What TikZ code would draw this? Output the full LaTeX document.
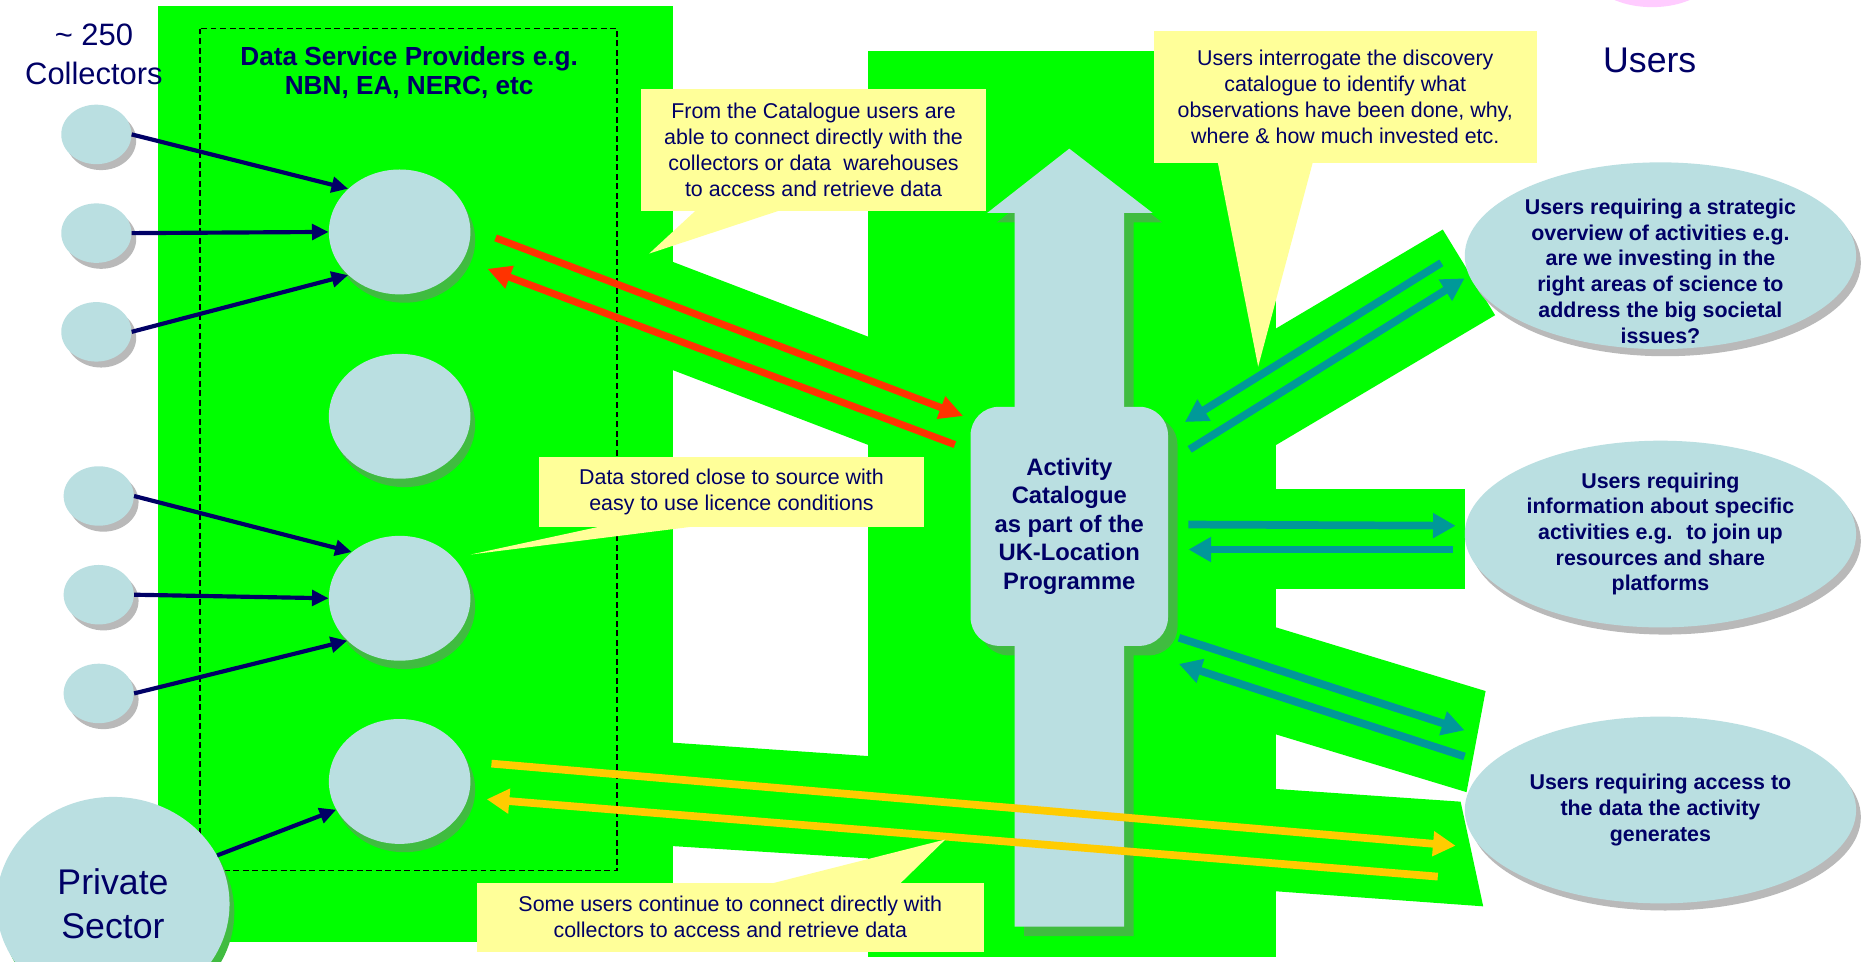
\documentclass[tikz,border=0pt]{standalone}
\usepackage{fontspec}
\setmainfont{Liberation Sans}
\usetikzlibrary{arrows.meta,shapes.geometric,shadows,calc}
\definecolor{vgreen}{RGB}{0,255,0}
\definecolor{shgreen}{RGB}{64,188,64}
\definecolor{lblue}{RGB}{186,223,225}
\definecolor{navy}{RGB}{0,0,102}
\definecolor{redarr}{RGB}{255,51,0}
\definecolor{tealarr}{RGB}{0,153,153}
\definecolor{yelarr}{RGB}{255,204,0}
\definecolor{callyel}{RGB}{255,255,153}
\definecolor{pinkish}{RGB}{255,204,255}

\begin{document}
\begin{tikzpicture}[x=1pt, y=-1pt,
   coll/.style={ellipse, fill=lblue, minimum width=59pt, minimum height=50pt, inner sep=0pt,
      drop shadow={shadow xshift=4pt, shadow yshift=-5pt, fill=gray!55, opacity=1}},
   prov/.style={ellipse, fill=lblue, minimum width=119pt, minimum height=105pt, inner sep=0pt,
      drop shadow={shadow xshift=4pt, shadow yshift=-7pt, fill=shgreen, opacity=1}},
   user/.style={ellipse, fill=lblue, minimum width=329pt, minimum height=157pt, inner sep=0pt,
      drop shadow={shadow xshift=4pt, shadow yshift=-6pt, fill=gray!55, opacity=1},
      text=navy, align=center, font=\bfseries\fontsize{18}{21.6}\selectfont},
   catbox/.style={rectangle, rounded corners=24pt, fill=lblue, minimum width=166pt, minimum height=201pt,
      inner sep=0pt, text=navy, align=center, font=\bfseries\fontsize{20}{24}\selectfont},
   callout/.style={fill=callyel, text=navy, align=center, inner sep=0pt, font=\fontsize{18}{21.7}\selectfont},
   feed/.style={navy, line width=3.5pt, -{Triangle[length=14pt,width=13pt]}},
   redlink/.style={redarr, line width=6pt, -{Triangle[length=20pt,width=19pt]}},
   teallink/.style={tealarr, line width=6.5pt, -{Triangle[length=19pt,width=20pt]}},
   yellink/.style={yelarr, line width=6.5pt, -{Triangle[length=19pt,width=20pt]}}]

   \fill[white, use as bounding box] (0,0) rectangle (1568,808);

   \fill[vgreen] (133,5) rectangle (566,792);
   \fill[vgreen] (730,43) rectangle (1073,805);
   \fill[vgreen] (560,218) -- (735,285) -- (735,376) -- (560,309) -- cycle;
   \fill[vgreen] (560,624) -- (735,636) -- (735,722) -- (560,711) -- cycle;
   \fill[vgreen] (1068,279) -- (1213,193) -- (1257,265) -- (1068,377) -- cycle;
   \fill[vgreen] (1068,411) rectangle (1232,495);
   \fill[vgreen] (1068,526) -- (1249,581) -- (1233,666) -- (1068,616) -- cycle;
   \fill[vgreen] (1068,663) -- (1228,674) -- (1247,762) -- (1068,749) -- cycle;
   \fill[pinkish] (1389,-27) ellipse [x radius=55, y radius=33];

   \begin{scope}[shift={(8,8)}]
      \fill[shgreen] (853,779) -- (853,179) -- (830,179) -- (899,125) -- (969,179) -- (945,179) -- (945,779) -- cycle;
      \fill[shgreen, rounded corners=24pt] (816,342) rectangle (982,543);
   \end{scope}
   \fill[lblue] (853,779) -- (853,179) -- (830,179) -- (899,125) -- (969,179) -- (945,179) -- (945,779) -- cycle;
   \node[catbox] (cat) at (899,442.5) {Activity\\Catalogue\\as part of the\\UK-Location\\Programme};

   \draw[black, line width=1.4pt, dash pattern=on 5pt off 3pt] (168,24) rectangle (519,732);

   \node[text=navy, align=center, font=\fontsize{26}{33}\selectfont] (ncoll) at (79,46) {\textasciitilde{} 250\\Collectors};
   \node[text=navy, align=center, font=\bfseries\fontsize{22}{25}\selectfont] (dsp) at (344,61) {Data Service Providers e.g.\\NBN, EA, NERC, etc};
   \node[text=navy, font=\fontsize{30}{36}\selectfont] (users) at (1387,51) {Users};

   \node[coll] (c1) at (81,113) {};
   \node[coll] (c2) at (81,196) {};
   \node[coll] (c3) at (81,279) {};
   \node[coll] (c4) at (83,417) {};
   \node[coll] (c5) at (83,500) {};
   \node[coll] (c6) at (83,583) {};
   \node[prov] (p1) at (336,195) {};
   \node[prov] (p2) at (336,350) {};
   \node[prov] (p3) at (336,503) {};
   \node[prov] (p4) at (336,657) {};
   \node[prov, minimum width=196pt, minimum height=180pt, text=navy, align=center,
      font=\fontsize{30}{37}\selectfont] (ps) at (95,760) {Private\\Sector};

   \node[user] (u1) at (1396,215) {};
   \node[text=navy, align=center, font=\bfseries\fontsize{18}{21.6}\selectfont] (u1txt) at (1396,228)
      {Users requiring a strategic\\overview of activities e.g.\\are we investing in the\\right areas of science to\\address the big societal\\issues?};
   \node[user] (u2) at (1396,449) {Users requiring\\information about specific\\activities e.g.~ to join up\\resources and share\\platforms};
   \node[user] (u3) at (1396,681) {Users requiring access to\\the data the activity\\generates};

   \draw[feed] (c1.east) -- (p1.140);
   \draw[feed] (c2.east) -- (p1.west);
   \draw[feed] (c3.east) -- (p1.220);
   \draw[feed] (c4.east) -- (p3.136);
   \draw[feed] (c5.east) -- (p3.west);
   \draw[feed] (c6.east) -- (p3.219);
   \draw[feed] (ps.25) -- (p4.204);

   \draw[redlink] ($(p1.east)+(21,5)$) -- ($(cat.north west)+(-6,8)$);
   \draw[redlink] ($(cat.north west)+(-13,32)$) -- ($(p1.east)+(14,31)$);
   \draw[teallink] ($(cat.north east)+(18,36)$) -- ($(u1.west)+(0,19)$);
   \draw[teallink] ($(u1.west)+(-19.5,6)$) -- ($(cat.north east)+(14,13)$);
   \draw[teallink] ($(cat.east)+(17,-1.5)$) -- ($(u2.west)+(-7.5,-7)$);
   \draw[teallink] ($(u2.west)+(-9.5,13)$) -- ($(cat.east)+(17,19.5)$);
   \draw[teallink] ($(cat.south east)+(9,-7)$) -- ($(u3.west)+(0,-67)$);
   \draw[teallink] ($(u3.west)+(0,-45)$) -- ($(cat.south east)+(9,15)$);
   \draw[yellink] ($(p4.east)+(17.5,-15)$) -- ($(u3.west)+(-7.5,30)$);
   \draw[yellink] ($(u3.west)+(-22.5,56)$) -- ($(p4.east)+(13.5,15)$);

   \node[callout, minimum width=290pt, minimum height=102pt] (callcat) at (684,126)
      {From the Catalogue users are\\able to connect directly with the\\collectors or data~ warehouses\\to access and retrieve data};
   \fill[callyel] ($(callcat.south west)+(47,-1)$) -- ($(callcat.south west)+(7,36)$) -- ($(callcat.south west)+(119,-1)$) -- cycle;
   \node[callout, minimum width=322pt, minimum height=111pt] (callint) at (1131,81.5)
      {Users interrogate the discovery\\catalogue to identify what\\observations have been done, why,\\where \& how much invested etc.};
   \fill[callyel] ($(callint.south west)+(54,-1)$) -- ($(callint.south west)+(88,171)$) -- ($(callint.south west)+(134,-1)$) -- cycle;
   \node[callout, minimum width=324pt, minimum height=59pt] (callstore) at (615,413.5)
      {Data stored close to source with\\easy to use licence conditions};
   \fill[callyel] ($(callstore.south west)+(54,-1)$) -- ($(callstore.south west)+(-57,23)$) -- ($(callstore.south west)+(134,-1)$) -- cycle;
   \node[callout, minimum width=426pt, minimum height=58pt] (callsome) at (614,771)
      {Some users continue to connect directly with\\collectors to access and retrieve data};
   \fill[callyel] ($(callsome.north west)+(248,1)$) -- ($(callsome.north west)+(394,-36)$) -- ($(callsome.north west)+(356,1)$) -- cycle;
\end{tikzpicture}
\end{document}
